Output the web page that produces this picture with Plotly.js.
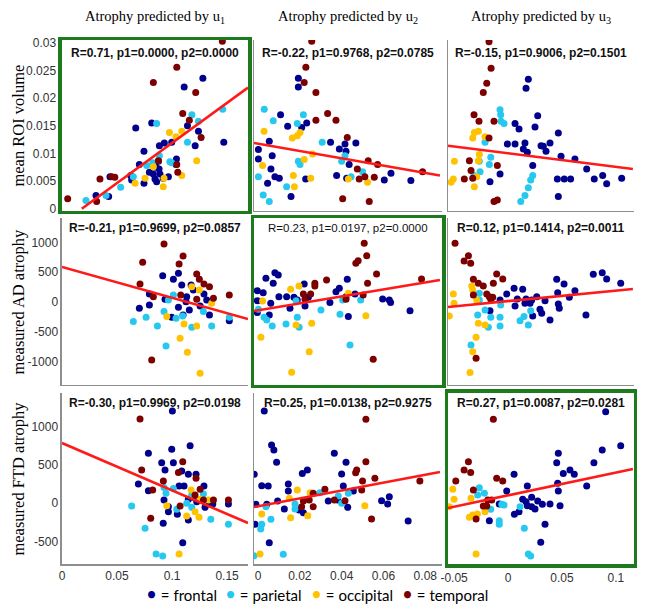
<!DOCTYPE html>
<html>
<head>
<meta charset="utf-8">
<script src="https://cdn.plot.ly/plotly-3.0.1.min.js"></script>
<style>
  html, body { margin: 0; padding: 0; background: #fff; }
  #chart { width: 645px; height: 611px; }
</style>
</head>
<body>
<div id="chart"></div>
<script>
// Region groups and colours
const groups = ['frontal', 'parietal', 'occipital', 'temporal'];
const groupColors = ['#00008c', '#26c8ef', '#ffc200', '#7d0000'];

const colTitles = ['Atrophy predicted by u<sub>1</sub>', 'Atrophy predicted by u<sub>2</sub>', 'Atrophy predicted by u<sub>3</sub>'];
const rowTitles = ['mean ROI volume', 'measured AD atrophy', 'measured FTD atrophy'];

const statText = [
  ['R=0.71, p1=0.0000, p2=0.0000', 'R=-0.22, p1=0.9768, p2=0.0785', 'R=-0.15, p1=0.9006, p2=0.1501'],
  ['R=-0.21, p1=0.9699, p2=0.0857', 'R=0.23, p1=0.0197, p2=0.0000', 'R=0.12, p1=0.1414, p2=0.0011'],
  ['R=-0.30, p1=0.9969, p2=0.0198', 'R=0.25, p1=0.0138, p2=0.9275', 'R=0.27, p1=0.0087, p2=0.0281'],
];

// tick values
const xTicks = [[0, 0.05, 0.1, 0.15], [0, 0.02, 0.04, 0.06, 0.08], [-0.05, 0, 0.05, 0.1]];
const yTicks = [[0, 0.005, 0.01, 0.015, 0.02, 0.025, 0.03], [-1000, -500, 0, 500, 1000], [-500, 0, 500, 1000]];

// ---- row 1: mean ROI volume ----
const volU1Frontal = [[0.067,0.0146],[0.0815,0.0155],[0.128,0.0236],[0.111,0.022],[0.147,0.012],[0.0745,0.0104],[0.093,0.0119],[0.0885,0.0114],[0.0997,0.012],[0.0703,0.008],[0.0745,0.0046],[0.0794,0.0066],[0.0855,0.0075],[0.083,0.0063],[0.0882,0.0072],[0.089,0.0063],[0.0845,0.0054],[0.0967,0.0058],[0.104,0.009],[0.1036,0.008],[0.124,0.014],[0.121,0.0114],[0.0436,0.0058],[0.0424,0.0022],[0.0309,0.0024],[0.0633,0.0052],[0.0624,0.006],[0.092,0.0055],[0.0876,0.0086],[0.114,0.015],[0.086,0.0049]];
const volU1Parietal = [[0.086,0.0154],[0.118,0.017],[0.124,0.0158],[0.146,0.018],[0.114,0.012],[0.098,0.0085],[0.0824,0.0083],[0.0533,0.0039],[0.0218,0.0015],[0.04,0.0024],[0.0648,0.0058],[0.077,0.0078],[0.0885,0.0096],[0.0997,0.0083]];
const volU1Occipital = [[0.0976,0.0138],[0.1036,0.013],[0.1088,0.014],[0.1224,0.0087],[0.1088,0.006],[0.092,0.004],[0.0927,0.0055],[0.0755,0.0055],[0.0664,0.0046],[0.083,0.0076]];
const volU1Temporal = [[0.1457,0.0303],[0.1043,0.0256],[0.083,0.0228],[0.1215,0.021],[0.1097,0.0172],[0.1157,0.016],[0.1264,0.0129],[0.1043,0.008],[0.1052,0.0066],[0.0876,0.0087],[0.0452,0.0058],[0.048,0.0057],[0.0345,0.0054],[0.0052,0.0018],[0.0315,0.0013]];
const volU1Fit = [[0.018, 0], [0.169, 0.0219]];

const volU2Frontal = [[0.0193,0.0236],[0.0193,0.022],[0.0108,0.017],[0.0142,0.0149],[0.0233,0.0155],[0.0209,0.0147],[0.0054,0.0122],[0.0002,0.0107],[0.0002,0.009],[0.0068,0.0096],[0.0062,0.0072],[0.0081,0.0058],[0.0102,0.0055],[0.0046,0.0046],[0.0158,0.0022],[0.0228,0.0054],[0.0347,0.012],[0.0389,0.0108],[0.0416,0.0117],[0.0468,0.0119],[0.0421,0.0104],[0.0436,0.008],[0.0376,0.006],[0.0636,0.0064],[0.0604,0.0052],[0.0731,0.0051],[0.0424,0.0055]];
const volU2Parietal = [[0.003,0.018],[0.0073,0.0159],[0.0217,0.017],[0.0188,0.0154],[0.0307,0.012],[0.0416,0.0096],[0.04,0.0086],[0.0193,0.0086],[0.0201,0.008],[0.0002,0.0058],[0.0137,0.004],[0.0025,0.0025],[0.0054,0.0013],[0.0445,0.0058],[0.05,0.0067]];
const volU2Occipital = [[0.0029,0.014],[0.0164,0.0128],[0.0188,0.0132],[0.0201,0.0138],[0.0261,0.0099],[0.0221,0.0089],[0.0022,0.0078],[0.0169,0.006],[0.0252,0.0055],[0.0174,0.004],[0.0432,0.0054],[0.0524,0.0048]];
const volU2Temporal = [[0.0257,0.0303],[0.0229,0.0256],[0.0221,0.0228],[0.0277,0.021],[0.0277,0.016],[0.0333,0.0172],[0.0373,0.016],[0.0427,0.0129],[0.0527,0.0087],[0.0572,0.008],[0.0787,0.0067],[0.0475,0.0072],[0.0511,0.0058],[0.0484,0.0054],[0.0556,0.0057],[0.0405,0.0018],[0.0532,0.0013]];
const volU2Fit = [[-0.0019, 0.0119], [0.087, 0.006]];

const volU3Frontal = [[0.0188,0.0234],[0.0167,0.0218],[0.0275,0.0168],[0.0065,0.0154],[0.0102,0.0144],[0.025,0.0148],[-0.0006,0.0117],[0.0065,0.0117],[0.0157,0.0119],[0.0142,0.0108],[0.0179,0.0102],[0.0306,0.0114],[0.0327,0.0113],[0.0352,0.0104],[0.0389,0.0119],[0.0466,0.0137],[0.0491,0.0095],[0.062,0.009],[0.0229,0.0078],[-0.0074,0.0063],[-0.0167,0.0049],[0.0457,0.0054],[0.0521,0.0054],[0.058,0.0054],[0.0729,0.0072],[0.0799,0.0054],[0.0877,0.006],[0.0914,0.0045],[0.1053,0.0055],[0.0466,0.0022]];
const volU3Parietal = [[-0.0074,0.0179],[-0.0068,0.017],[-0.0065,0.0158],[-0.0037,0.0154],[-0.0213,0.012],[-0.016,0.0093],[-0.0173,0.008],[-0.0266,0.0086],[-0.0259,0.0067],[-0.0315,0.006],[0.0229,0.006],[0.021,0.0052],[0.0188,0.0038],[0.0157,0.0024],[0.0118,0.0013]];
const volU3Occipital = [[-0.0497,0.0086],[-0.0327,0.0128],[-0.0312,0.0138],[-0.0275,0.014],[-0.0213,0.013],[-0.0266,0.0098],[-0.0275,0.0087],[-0.029,0.0058],[-0.0312,0.004],[-0.0507,0.0054],[-0.0528,0.0048]];
const volU3Temporal = [[-0.0176,0.0302],[-0.0157,0.0254],[-0.0197,0.0227],[-0.0229,0.021],[-0.0315,0.017],[-0.0269,0.0158],[-0.013,0.0158],[-0.0176,0.0128],[-0.0358,0.0087],[-0.0099,0.0078],[-0.0343,0.0069],[-0.0405,0.0054],[-0.0327,0.0055],[-0.013,0.0013],[-0.0099,0.0016]];
const volU3Fit = [[-0.0556, 0.0114], [0.1157, 0.0072]];

// ---- row 2: measured AD atrophy ----
const adU1Frontal = [[0.0915,442],[0.1058,482],[0.1012,381],[0.1088,286],[0.0794,134],[0.0794,-50],[0.0703,-106],[0.0936,45],[0.1058,-89],[0.11,-218],[0.1157,-134],[0.1173,286],[0.1194,202],[0.129,134],[0.0997,-257],[0.134,-218],[0.152,-314],[0.1315,34],[0.1127,5],[0.1255,-67],[0.1133,89]];
const adU1Parietal = [[0.0648,-330],[0.0764,-257],[0.0867,-403],[0.0927,-162],[0.1012,118],[0.1036,-274],[0.1097,-235],[0.1179,-425],[0.1285,-162],[0.136,-403],[0.0945,-739],[0.0967,34],[0.152,-257]];
const adU1Occipital = [[0.0952,-246],[0.1179,257],[0.1248,202],[0.136,-22],[0.1109,-370],[0.1224,-403],[0.1073,-610],[0.1139,-845],[0.1255,-1198]];
const adU1Temporal = [[0.0927,974],[0.0733,667],[0.11,773],[0.1064,638],[0.0709,302],[0.083,89],[0.1224,470],[0.1248,381],[0.129,302],[0.134,257],[0.1079,118],[0.1224,45],[0.1376,62],[0.152,118],[0.0815,-974]];
const adU1Fit = [[0, 589], [0.169, -286]];

const adU2Frontal = [[0.0081,493],[0.0097,454],[0.0038,398],[0.0073,314],[0.0221,302],[-0.0003,190],[0.0025,156],[0.01,89],[0.0137,89],[0.0172,79],[0.0241,79],[-0.0003,22],[0.0061,-22],[0.0153,-106],[0.0225,-67],[-0.0003,-179],[0.0054,-218],[0.0344,-11],[0.0373,173],[0.0389,230],[0.0427,381],[0.0421,89],[0.0464,134],[0.0432,-246],[0.0596,50],[0.0628,34],[0.0634,-11],[0.0727,-146],[0.0188,34]];
const adU2Parietal = [[0.0002,-123],[0.0029,-257],[0.0042,-302],[0.0068,-403],[0.0134,-370],[0.0188,-257],[0.0197,-425],[0.0182,22],[0.0301,-134],[0.0392,-207],[0.0405,34],[0.0491,34],[0.044,-722]];
const adU2Occipital = [[0.0156,213],[0.0196,269],[0.0022,17],[0.0432,146],[0.0516,-230],[0.0257,-358],[0.0182,-386],[0.0014,-593],[0.0245,-835],[0.0161,-1181]];
const adU2Temporal = [[0.0508,986],[0.052,778],[0.0479,694],[0.0468,650],[0.0567,470],[0.0524,314],[0.0782,386],[0.0328,370],[0.0272,314],[0.0272,269],[0.0252,134],[0.0217,134],[0.0225,45],[0.0503,118],[0.0421,45],[0.0551,-963]];
const adU2Fit = [[-0.0019, -152], [0.087, 370]];

const adU3Frontal = [[0.079,465],[0.0873,493],[0.0914,386],[0.1044,314],[0.0451,381],[0.0519,302],[0.062,190],[0.046,156],[0.0568,79],[-0.0012,134],[0.0056,230],[0.0136,213],[-0.0074,34],[0.0086,50],[0.0167,50],[0.0219,34],[0.0266,89],[0.0157,-22],[0.0204,-22],[0.0065,-67],[-0.0167,-146],[0.0343,22],[0.0466,-34],[0.0475,-106],[0.0296,-123],[0.0312,-190],[0.0389,-302],[0.0722,-218],[0.0229,-235]];
const adU3Parietal = [[-0.0266,146],[-0.0266,34],[-0.0213,-134],[-0.0281,-218],[-0.016,-257],[-0.0074,-257],[-0.0182,-425],[-0.0074,-403],[-0.0068,-50],[0.0111,-314],[0.0148,-246],[0.0188,-386],[0.021,-146],[-0.0343,-722]];
const adU3Occipital = [[-0.0507,134],[-0.05,-22],[-0.0544,-235],[-0.0336,269],[-0.0327,202],[-0.029,34],[-0.0275,-358],[-0.0213,-386],[-0.0296,-593],[-0.0327,-835],[-0.0352,-1187]];
const adU3Temporal = [[-0.0491,986],[-0.0367,778],[-0.0407,689],[-0.0346,650],[-0.0105,470],[-0.0049,386],[-0.0321,381],[-0.0275,314],[-0.0229,269],[-0.0136,314],[-0.0321,118],[-0.0197,134],[-0.0173,89],[-0.0142,79],[-0.016,45],[-0.0296,-946]];
const adU3Fit = [[-0.0556, -84], [0.1157, 219]];

// ---- row 3: measured FTD atrophy ----
const ftdU1Frontal = [[0.1003,1200],[0.0997,701],[0.0785,649],[0.1164,748],[0.0906,526],[0.1012,526],[0.0936,431],[0.1088,418],[0.1148,374],[0.1218,374],[0.0694,248],[0.0785,161],[0.1064,222],[0.1109,222],[0.129,222],[0.0927,39],[0.0967,-113],[0.092,-265],[0.1148,-222],[0.1048,-148],[0.1097,-518],[0.1148,48],[0.1188,74],[0.13,-56],[0.134,-4],[0.137,-13],[0.1512,-13],[0.1224,17],[0.0967,-48]];
const ftdU1Parietal = [[0.0633,-39],[0.0755,-330],[0.0855,-666],[0.0915,-692],[0.0945,126],[0.1012,191],[0.1043,-82],[0.1133,-4],[0.1179,104],[0.1179,-56],[0.1285,117],[0.1352,-213],[0.1512,-278],[0.0927,204]];
const ftdU1Occipital = [[0.1173,170],[0.0952,-35],[0.1133,-170],[0.1209,-113],[0.1245,-187],[0.133,39],[0.1064,-666],[0.1255,48]];
const ftdU1Temporal = [[0.0709,1096],[0.0724,431],[0.1097,539],[0.0921,287],[0.1058,400],[0.1218,322],[0.1255,179],[0.0824,170],[0.0806,-200],[0.1073,-39],[0.1285,39],[0.1376,39],[0.1512,39],[0.1209,104]];
const ftdU1Fit = [[0, 783], [0.169, -261]];

const ftdU2Frontal = [[0.003,1200],[0.0065,757],[0.0076,692],[0.0089,531],[0.0365,649],[0.0421,531],[-0.0018,374],[0.0212,387],[0.0236,431],[0.04,378],[0.0018,226],[0.0049,222],[0.0145,248],[0.0145,157],[0.0408,222],[-0.001,-17],[0.0042,-17],[0.0094,26],[0.0126,-78],[0.0197,-91],[0.0217,-127],[0.0336,26],[0.0429,-56],[0.0456,157],[0.0591,30],[0.062,-13],[0.0628,82],[0.0718,-235],[-0.0014,-278],[0.0054,-518],[0.0381,39]];
const ftdU2Parietal = [[0.0018,-278],[0.0013,-339],[0.0062,-213],[0.0038,-48],[0.0177,-13],[0.0177,-78],[0.0296,135],[0.0384,91],[0.04,-4],[0.0432,126],[-0.0019,-688],[0.0121,-670]];
const ftdU2Occipital = [[0.0188,170],[0.015,61],[0.0018,-144],[0.0156,-192],[0.0238,-166],[0.0511,-35],[0.0249,135],[0.001,-666]];
const ftdU2Temporal = [[0.0516,1092],[0.0516,539],[0.0472,431],[0.0467,396],[0.0559,322],[0.05,287],[0.0774,287],[0.0496,170],[0.032,179],[0.0264,126],[0.0245,39],[0.0217,26],[0.0209,-48],[0.0264,-48],[0.0365,39],[0.0416,30],[0.0543,-209]];
const ftdU2Fit = [[-0.0019, -52], [0.087, 405]];

const ftdU3Frontal = [[0.0905,1191],[0.1044,748],[0.0873,692],[0.0796,526],[0.0466,649],[0.0451,526],[0.0574,431],[0.0512,387],[0.0614,374],[0.046,257],[0.0466,157],[0.0729,222],[0.0482,-35],[0.0389,-13],[0.0056,374],[-0.0012,157],[0.0179,222],[0.0136,48],[0.0167,17],[0.0219,74],[0.0179,-35],[0.0219,-48],[0.025,-78],[0.0275,26],[0.0318,-17],[0.0102,-113],[0.0059,-148],[0.0343,-278],[0.0303,-513],[-0.0173,-231],[-0.0081,-13]];
const ftdU3Parietal = [[-0.0266,200],[-0.0219,126],[-0.0281,104],[-0.016,-82],[-0.0081,-231],[-0.0081,-278],[-0.0058,-17],[-0.0037,-26],[0.0111,-48],[0.0151,-330],[0.0188,-666],[0.021,-692]];
const ftdU3Occipital = [[-0.0512,179],[-0.05,48],[-0.0544,-48],[-0.0343,61],[-0.0358,-187],[-0.0327,-157],[-0.0284,-144],[-0.0213,-113],[-0.0296,-666]];
const ftdU3Temporal = [[-0.0136,1092],[-0.0367,539],[-0.0407,431],[-0.0346,400],[-0.0105,322],[-0.0049,287],[-0.0484,287],[-0.0321,170],[-0.0188,39],[-0.0151,39],[-0.0229,-39],[-0.0197,-39],[-0.0296,-209]];
const ftdU3Fit = [[-0.0556, -65], [0.1157, 444]];

// panel grid: [row][col] -> { points per group, fit line }
const panels = [
  [
    { pts: [volU1Frontal, volU1Parietal, volU1Occipital, volU1Temporal], fit: volU1Fit },
    { pts: [volU2Frontal, volU2Parietal, volU2Occipital, volU2Temporal], fit: volU2Fit },
    { pts: [volU3Frontal, volU3Parietal, volU3Occipital, volU3Temporal], fit: volU3Fit },
  ],
  [
    { pts: [adU1Frontal, adU1Parietal, adU1Occipital, adU1Temporal], fit: adU1Fit },
    { pts: [adU2Frontal, adU2Parietal, adU2Occipital, adU2Temporal], fit: adU2Fit },
    { pts: [adU3Frontal, adU3Parietal, adU3Occipital, adU3Temporal], fit: adU3Fit },
  ],
  [
    { pts: [ftdU1Frontal, ftdU1Parietal, ftdU1Occipital, ftdU1Temporal], fit: ftdU1Fit },
    { pts: [ftdU2Frontal, ftdU2Parietal, ftdU2Occipital, ftdU2Temporal], fit: ftdU2Fit },
    { pts: [ftdU3Frontal, ftdU3Parietal, ftdU3Occipital, ftdU3Temporal], fit: ftdU3Fit },
  ],
];

// geometry (paper fractions, page is 645x611 with no margins)
const colDomains = [[0.0961, 0.3845], [0.3938, 0.6853], [0.6946, 0.9829]];
const rowDomains = [[0.6547, 0.9345], [0.3699, 0.6432], [0.0769, 0.3568]];
const xRanges = [[0, 0.169], [-0.0019, 0.088], [-0.0556, 0.1167]];
const yRanges = [[-0.0004, 0.0305], [-1395, 1411], [-796, 1436]];
const statY = [0.925, 0.94, 0.94];
const legendX = [0.2232, 0.3457, 0.479, 0.62];

const tickFont = { family: 'Liberation Sans, Arial, sans-serif', size: 12, color: '#333' };
const serif = 'Liberation Serif, Times New Roman, serif';

const traces = [];
const layout = {
  width: 645,
  height: 611,
  margin: { l: 0, r: 0, t: 0, b: 0 },
  paper_bgcolor: '#fff',
  plot_bgcolor: '#fff',
  showlegend: false,
  annotations: [],
};

for (let r = 0; r < 3; r++) {
  for (let c = 0; c < 3; c++) {
    const k = r * 3 + c + 1;
    const xa = k === 1 ? 'x' : 'x' + k;
    const ya = k === 1 ? 'y' : 'y' + k;
    const diag = r === c;
    const p = panels[r][c];

    p.pts.forEach((pts, g) => {
      traces.push({
        x: pts.map(d => d[0]),
        y: pts.map(d => d[1]),
        xaxis: xa, yaxis: ya,
        type: 'scatter',
        mode: 'markers',
        name: groups[g],
        marker: { color: groupColors[g], size: 7 },
        hoverinfo: 'skip',
      });
    });

    traces.push({
      x: p.fit.map(d => d[0]),
      y: p.fit.map(d => d[1]),
      xaxis: xa, yaxis: ya,
      type: 'scatter',
      mode: 'lines',
      line: { color: '#ff1a1a', width: 2.6 },
      hoverinfo: 'skip',
    });

    const axLine = diag
      ? { showline: true, mirror: true, linecolor: '#1d7b1d', linewidth: 3.5 }
      : { showline: true, mirror: false, linecolor: '#8e8e8e', linewidth: 1.5 };

    layout['xaxis' + (k === 1 ? '' : k)] = {
      domain: colDomains[c],
      range: xRanges[c],
      anchor: ya,
      showgrid: false, zeroline: false, ticks: '',
      fixedrange: true,
      showticklabels: r === 2,
      tickvals: xTicks[c],
      ticktext: xTicks[c].map(String),
      tickfont: tickFont,
      ...axLine,
    };
    layout['yaxis' + (k === 1 ? '' : k)] = {
      domain: rowDomains[r],
      range: yRanges[r],
      anchor: xa,
      showgrid: false, zeroline: false, ticks: '',
      fixedrange: true,
      showticklabels: c === 0,
      tickvals: yTicks[r],
      ticktext: yTicks[r].map(String),
      tickfont: tickFont,
      ...axLine,
    };

    const plain = r === 1 && c === 1;
    layout.annotations.push({
      xref: xa + ' domain', yref: ya + ' domain',
      x: 0.5, y: statY[r],
      xanchor: 'center', yanchor: 'middle',
      showarrow: false,
      text: statText[r][c],
      font: {
        family: 'Liberation Sans, Arial, sans-serif',
        size: plain ? 11.5 : 12,
        weight: plain ? 'normal' : 'bold',
        color: '#111',
      },
    });
  }
}

// column titles
colTitles.forEach((t, c) => {
  layout.annotations.push({
    xref: 'paper', yref: 'paper',
    x: (colDomains[c][0] + colDomains[c][1]) / 2, y: 0.972,
    xanchor: 'center', yanchor: 'middle',
    showarrow: false,
    text: t,
    font: { family: serif, size: 14.5, color: '#000' },
  });
});

// row titles
rowTitles.forEach((t, r) => {
  layout.annotations.push({
    xref: 'paper', yref: 'paper',
    x: 0.028, y: (rowDomains[r][0] + rowDomains[r][1]) / 2,
    xanchor: 'center', yanchor: 'middle',
    textangle: -90,
    showarrow: false,
    text: t,
    font: { family: serif, size: 16.5, color: '#000' },
  });
});

// key along the bottom: coloured bullet + "= group"
groups.forEach((g, i) => {
  layout.annotations.push({
    xref: 'paper', yref: 'paper',
    x: legendX[i], y: 0.028,
    xanchor: 'left', yanchor: 'middle',
    showarrow: false,
    text: `<span style="color:${groupColors[i]};font-size:19px">•</span> = ${g}`,
    font: { family: 'Lato, sans-serif', size: 15, color: '#000' },
  });
});

Plotly.newPlot('chart', traces, layout, { displayModeBar: false, staticPlot: true });
</script>
</body>
</html>
